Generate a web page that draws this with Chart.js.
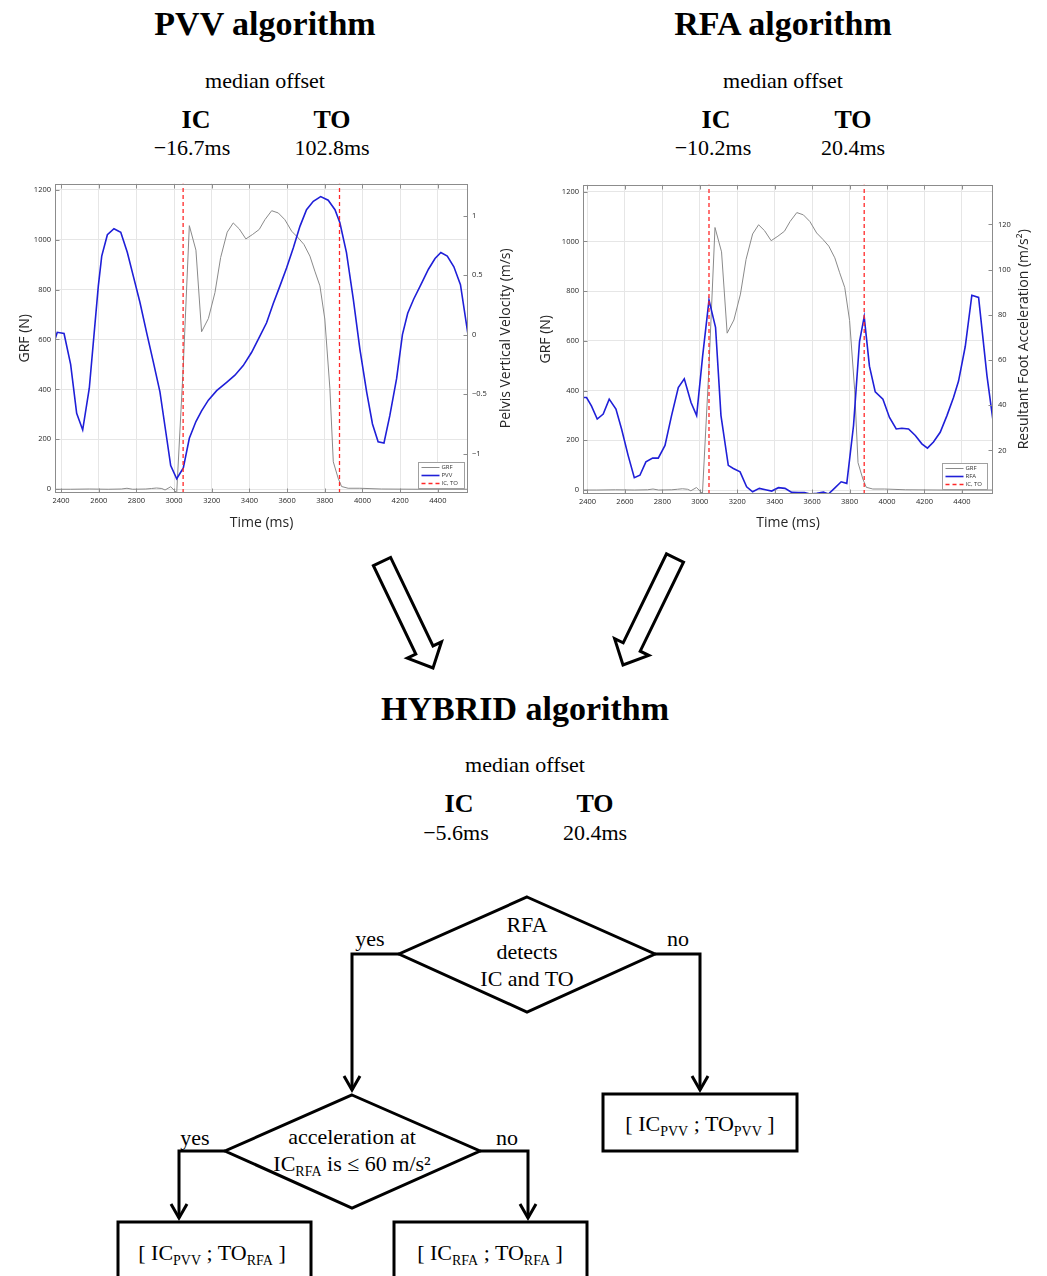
<!DOCTYPE html>
<html>
<head>
<meta charset="utf-8">
<script src="https://cdn.jsdelivr.net/npm/chart.js@4.4.1/dist/chart.umd.min.js"></script>
<style>
  html, body { margin: 0; padding: 0; background: #fff; }
  #page { position: relative; width: 1047px; height: 1276px; overflow: hidden; background: #fff; }
  #page svg { position: absolute; left: 0; top: 0; }
  .cv { position: absolute; }
  .serif { font-family: 'Liberation Serif', 'Times New Roman', serif; fill: #000; text-anchor: middle; }
  .h1 { font-size: 34px; font-weight: bold; }
  .h2 { font-size: 26px; font-weight: bold; }
  .t22 { font-size: 22px; }
  .flow { fill: none; stroke: #000; stroke-width: 3; stroke-linejoin: miter; }
  .block { fill: #fff; stroke: #000; stroke-width: 3; stroke-linejoin: miter; }
</style>
</head>
<body>
<div id="page">
<svg width="1047" height="1276">
  <!-- titles -->
  <text class="serif h1" x="265" y="35">PVV algorithm</text>
  <text class="serif t22" x="265" y="88">median offset</text>
  <text class="serif h2" x="196" y="128">IC</text>
  <text class="serif h2" x="332" y="128">TO</text>
  <text class="serif t22" x="192" y="155">−16.7ms</text>
  <text class="serif t22" x="332" y="155">102.8ms</text>

  <text class="serif h1" x="783" y="35">RFA algorithm</text>
  <text class="serif t22" x="783" y="88">median offset</text>
  <text class="serif h2" x="716" y="128">IC</text>
  <text class="serif h2" x="853" y="128">TO</text>
  <text class="serif t22" x="713" y="155">−10.2ms</text>
  <text class="serif t22" x="853" y="155">20.4ms</text>

  <!-- block arrows -->
  <polygon class="block" points="373.4,565.6 390.6,557.4 433,645.9 441.5,641.8 433,668 407.3,658.2 415.8,654.1"/>
  <polygon class="block" points="666.5,553.8 683.5,562.2 640.2,651.2 648.8,655.3 623,665 614.6,638.7 623.2,642.8"/>

  <text class="serif h1" x="525" y="720">HYBRID algorithm</text>
  <text class="serif t22" x="525" y="772">median offset</text>
  <text class="serif h2" x="459" y="812">IC</text>
  <text class="serif h2" x="595" y="812">TO</text>
  <text class="serif t22" x="456" y="840">−5.6ms</text>
  <text class="serif t22" x="595" y="840">20.4ms</text>

  <!-- decision 1 -->
  <polygon class="flow" points="527,897 655,954 527,1012 399,954"/>
  <text class="serif t22" x="527" y="932">RFA</text>
  <text class="serif t22" x="527" y="959">detects</text>
  <text class="serif t22" x="527" y="986">IC and TO</text>
  <text class="serif t22" x="370" y="946">yes</text>
  <text class="serif t22" x="678" y="946">no</text>
  <polyline class="flow" points="399,954 352,954 352,1090"/>
  <polyline class="flow" points="344,1076 352,1090 360,1076"/>
  <polyline class="flow" points="655,954 700,954 700,1090"/>
  <polyline class="flow" points="692,1076 700,1090 708,1076"/>
  <rect class="flow" x="603" y="1094" width="194" height="57"/>
  <text class="serif t22" x="700" y="1131">[ IC<tspan font-size="14" dy="5">PVV</tspan><tspan dy="-5"> ; TO</tspan><tspan font-size="14" dy="5">PVV</tspan><tspan dy="-5"> ]</tspan></text>

  <!-- decision 2 -->
  <polygon class="flow" points="352,1095 480,1151 352,1208 225,1151"/>
  <text class="serif t22" x="352" y="1144">acceleration at</text>
  <text class="serif t22" x="352" y="1171">IC<tspan font-size="14" dy="5">RFA</tspan><tspan dy="-5"> is ≤ 60 m/s²</tspan></text>
  <text class="serif t22" x="195" y="1145">yes</text>
  <text class="serif t22" x="507" y="1145">no</text>
  <polyline class="flow" points="225,1151 179,1151 179,1218"/>
  <polyline class="flow" points="171,1204 179,1218 187,1204"/>
  <polyline class="flow" points="480,1151 528,1151 528,1218"/>
  <polyline class="flow" points="520,1204 528,1218 536,1204"/>
  <rect class="flow" x="118" y="1222" width="193" height="70"/>
  <rect class="flow" x="394" y="1222" width="193" height="70"/>
  <text class="serif t22" x="212" y="1260">[ IC<tspan font-size="14" dy="5">PVV</tspan><tspan dy="-5"> ; TO</tspan><tspan font-size="14" dy="5">RFA</tspan><tspan dy="-5"> ]</tspan></text>
  <text class="serif t22" x="490" y="1260">[ IC<tspan font-size="14" dy="5">RFA</tspan><tspan dy="-5"> ; TO</tspan><tspan font-size="14" dy="5">RFA</tspan><tspan dy="-5"> ]</tspan></text>
</svg>
<div class="cv" style="left:0;top:175px;"><canvas id="pvvChart" width="520" height="360"></canvas></div>
<div class="cv" style="left:520px;top:175px;"><canvas id="rfaChart" width="527" height="360"></canvas></div>
</div>

<script>
// ticks (MATLAB axes)
const timeTicks = [2400, 2600, 2800, 3000, 3200, 3400, 3600, 3800, 4000, 4200, 4400];
const grfTicks = [0, 200, 400, 600, 800, 1000, 1200];
const pvvTicks = [-1, -0.5, 0, 0.5, 1];
const rfaTicks = [20, 40, 60, 80, 100, 120];

// ground reaction force (N), same trial in both panels
const grfTime = [2368, 2450, 2550, 2650, 2720, 2750, 2780, 2850, 2880, 2907, 2935, 2952, 2982, 3014, 3048, 3081, 3116, 3146, 3182, 3217,
  3247, 3282, 3314, 3346, 3381, 3417, 3452, 3482, 3518, 3553, 3588, 3624, 3659, 3689, 3721, 3747, 3774, 3800, 3827, 3845,
  3871, 3889, 3924, 3986, 4100, 4300, 4566];
const grfValues = [0, 0, 1, 0, 1, 4, 0, 1, 3, 5, 3, -3, 10, -14, 480, 1056, 958, 631, 684, 788,
  928, 1030, 1067, 1043, 1003, 1021, 1041, 1080, 1116, 1107, 1080, 1034, 1007, 981, 934, 874, 815, 682, 403, 110,
  44, 11, 4, 4, 1, 0, 0];

// pelvis vertical velocity (m/s)
const pvvTime = [2368, 2380, 2416, 2451, 2483, 2515, 2550, 2598, 2616, 2646, 2681, 2717, 2752, 2784, 2819, 2854, 2890, 2925, 2961, 2982,
  3014, 3049, 3081, 3116, 3146, 3182, 3226, 3279, 3323, 3367, 3411, 3456, 3491, 3526, 3562, 3597, 3633, 3668, 3703, 3739,
  3778, 3818, 3854, 3880, 3915, 3951, 3986, 4022, 4053, 4083, 4114, 4145, 4181, 4212, 4240, 4272, 4310, 4350, 4385, 4416,
  4450, 4485, 4520, 4560];
const pvvValues = [-0.04, 0.02, 0.01, -0.25, -0.66, -0.80, -0.45, 0.41, 0.66, 0.84, 0.89, 0.86, 0.69, 0.49, 0.27, 0.02, -0.23, -0.48, -0.87, -1.10,
  -1.21, -1.12, -0.87, -0.73, -0.64, -0.55, -0.47, -0.40, -0.34, -0.26, -0.15, -0.01, 0.10, 0.26, 0.41, 0.56, 0.73, 0.91, 1.05, 1.12,
  1.16, 1.13, 1.05, 0.94, 0.69, 0.30, -0.12, -0.48, -0.75, -0.90, -0.91, -0.68, -0.37, 0.00, 0.18, 0.30, 0.42, 0.55, 0.64, 0.69,
  0.66, 0.57, 0.42, 0.00];

// resultant foot acceleration (m/s²)
const rfaTime = [2376, 2395, 2421, 2452, 2484, 2516, 2552, 2582, 2617, 2650, 2680, 2712, 2748, 2778, 2814, 2849, 2885, 2917, 2953, 2983,
  3015, 3049, 3084, 3113, 3152, 3179, 3215, 3250, 3282, 3318, 3357, 3384, 3420, 3455, 3491, 3527, 3559, 3589, 3625, 3660,
  3687, 3723, 3755, 3785, 3821, 3853, 3878, 3906, 3937, 3978, 4013, 4049, 4079, 4115, 4151, 4186, 4216, 4248, 4284, 4320,
  4355, 4382, 4418, 4453, 4489, 4534, 4566];
const rfaValues = [43.4, 43.4, 39.7, 33.9, 36.1, 42.7, 38.3, 29.5, 17.8, 7.9, 9.0, 14.9, 16.6, 16.6, 22.2, 35.4, 47.8, 51.7, 41.2, 35.4,
  61.7, 86.5, 74.5, 35.4, 13.4, 12.0, 10.5, 3.9, 1.7, 3.2, 2.5, 2.0, 3.5, 3.2, 1.4, 1.3, 1.3, 0.7, 1.0, 1.6,
  0.7, 3.5, 6.1, 5.4, 31.0, 68.2, 79.2, 57.3, 45.9, 42.7, 34.6, 29.5, 29.8, 29.5, 26.6, 22.9, 21.0, 23.7, 28.0, 35.4,
  43.4, 50.7, 66.1, 88.7, 87.7, 52.9, 33.2];

// detected events (ms)
const pvvEvents = [3048, 3878];
const rfaEvents = [3049, 3878];

const AXIS_FONT = "'Open Sans', 'DejaVu Sans', sans-serif";
const TEXT = '#262626';
const EVENT_RED = 'rgb(255,40,40)';

const toPoints = (xs, ys) => xs.map((x, i) => ({ x, y: ys[i] }));

function eventLines(times, lo, hi) {
  const pts = [];
  times.forEach((t, i) => {
    if (i > 0) pts.push({ x: (times[i - 1] + t) / 2, y: null });
    pts.push({ x: t, y: lo }, { x: t, y: hi });
  });
  return pts;
}

const framePlugin = {
  id: 'frame',
  afterDatasetsDraw(chart) {
    const { ctx, chartArea: a, scales } = chart;
    const L = Math.round(a.left) + 0.5, R = Math.round(a.right) - 0.5;
    const T = Math.round(a.top) + 0.5, B = Math.round(a.bottom) - 0.5;
    ctx.save();
    ctx.strokeStyle = '#8c8c8c';
    ctx.lineWidth = 1;
    ctx.strokeRect(L, T, R - L, B - T);
    ctx.beginPath();
    scales.x.ticks.forEach(t => {
      const px = Math.round(scales.x.getPixelForValue(t.value)) + 0.5;
      ctx.moveTo(px, B); ctx.lineTo(px, B - 4);
      ctx.moveTo(px, T); ctx.lineTo(px, T + 4);
    });
    scales.y.ticks.forEach(t => {
      const py = Math.round(scales.y.getPixelForValue(t.value)) + 0.5;
      ctx.moveTo(L, py); ctx.lineTo(L + 4, py);
    });
    scales.y2.ticks.forEach(t => {
      const py = Math.round(scales.y2.getPixelForValue(t.value)) + 0.5;
      ctx.moveTo(R, py); ctx.lineTo(R - 4, py);
    });
    ctx.stroke();
    ctx.restore();
  }
};

const boxLegend = {
  id: 'boxLegend',
  afterDraw(chart, args, opts) {
    const { ctx, chartArea: a } = chart;
    const x0 = Math.round(a.right - opts.right - opts.width) + 0.5;
    const y0 = Math.round(a.bottom - opts.bottom - opts.height) + 0.5;
    ctx.save();
    ctx.fillStyle = '#fff';
    ctx.fillRect(x0, y0, opts.width, opts.height);
    ctx.strokeStyle = '#a0a0a0';
    ctx.lineWidth = 1;
    ctx.strokeRect(x0, y0, opts.width, opts.height);
    ctx.font = '6px ' + AXIS_FONT;
    ctx.textBaseline = 'middle';
    chart.data.datasets.forEach((ds, i) => {
      const y = Math.round(y0 + 4 + i * 8) + 0.5;
      ctx.strokeStyle = ds.borderColor;
      ctx.lineWidth = Math.max(1, ds.borderWidth);
      ctx.setLineDash(ds.borderDash || []);
      ctx.beginPath();
      ctx.moveTo(x0 + 3, y);
      ctx.lineTo(x0 + 21, y);
      ctx.stroke();
      ctx.setLineDash([]);
      ctx.fillStyle = '#333';
      ctx.fillText(ds.label, x0 + 23, y);
    });
    ctx.restore();
  }
};

// right axis title reads bottom-to-top, like MATLAB
const sideTitle = {
  id: 'sideTitle',
  afterDraw(chart, args, opts) {
    const { ctx, chartArea: a } = chart;
    ctx.save();
    ctx.translate(opts.x, (a.top + a.bottom) / 2);
    ctx.rotate(-Math.PI / 2);
    ctx.font = '14px ' + AXIS_FONT;
    ctx.fillStyle = TEXT;
    ctx.textAlign = 'center';
    ctx.textBaseline = 'middle';
    ctx.fillText(opts.text, 0, 0);
    ctx.restore();
  }
};

function gaitChartConfig(p) {
  const fixTicks = list => scale => { scale.ticks = list.map(v => ({ value: v })); };
  const tickFont = { family: AXIS_FONT, size: 7.5 };
  const plain = v => String(v).replace('-', '\u2212');
  return {
    type: 'line',
    data: {
      datasets: [
        {
          label: 'GRF',
          data: toPoints(grfTime, grfValues),
          yAxisID: 'y',
          borderColor: '#8a8a8a',
          borderWidth: 1,
          order: 3,
        },
        {
          label: p.label,
          data: toPoints(p.time, p.values),
          yAxisID: 'y2',
          borderColor: '#1f1fd8',
          borderWidth: 1.6,
          order: 2,
        },
        {
          label: 'IC, TO',
          data: eventLines(p.events, p.grfMin, p.grfMax),
          yAxisID: 'y',
          borderColor: EVENT_RED,
          borderWidth: 1.3,
          borderDash: [4, 3],
          spanGaps: false,
          order: 1,
        },
      ],
    },
    options: {
      responsive: false,
      animation: false,
      devicePixelRatio: 1,
      layout: { padding: { top: p.padTop, left: 0, right: 0, bottom: 0 } },
      elements: { point: { radius: 0 }, line: { tension: 0 } },
      plugins: {
        legend: { display: false },
        tooltip: { enabled: false },
        boxLegend: { width: p.legendW, height: 26, right: p.legendRight, bottom: 5 },
        sideTitle: { text: p.rightTitle, x: p.rightTitleX },
      },
      scales: {
        x: {
          type: 'linear',
          min: p.xMin,
          max: p.xMax,
          afterBuildTicks: fixTicks(timeTicks),
          afterFit: s => { s.height = p.xHeight; },
          grid: { color: '#e6e6e6', drawTicks: false },
          border: { display: false },
          ticks: { padding: 3, color: TEXT, font: tickFont, callback: plain },
          title: { display: true, text: 'Time (ms)', color: TEXT, font: { family: AXIS_FONT, size: 14 }, padding: { top: 0, bottom: 4 } },
        },
        y: {
          position: 'left',
          min: p.grfMin,
          max: p.grfMax,
          afterBuildTicks: fixTicks(grfTicks),
          afterFit: s => { s.width = p.yWidth; },
          grid: { color: '#e6e6e6', drawTicks: false },
          border: { display: false },
          ticks: { padding: 4, color: TEXT, font: tickFont, callback: plain },
          title: { display: true, text: 'GRF (N)', color: TEXT, font: { family: AXIS_FONT, size: 14 }, padding: { top: p.grfTitlePad, bottom: 0 } },
        },
        y2: {
          position: 'right',
          min: p.y2Min,
          max: p.y2Max,
          afterBuildTicks: fixTicks(p.y2Ticks),
          afterFit: s => { s.width = p.y2Width; },
          grid: { display: false, drawTicks: false },
          border: { display: false },
          ticks: { padding: p.y2Pad, color: TEXT, font: tickFont, callback: plain },
        },
      },
    },
    plugins: [framePlugin, boxLegend, sideTitle],
  };
}

new Chart(document.getElementById('pvvChart'), gaitChartConfig({
  label: 'PVV',
  time: pvvTime,
  values: pvvValues,
  events: pvvEvents,
  xMin: 2368, xMax: 4560,
  grfMin: -15, grfMax: 1225,
  y2Min: -1.33, y2Max: 1.27, y2Ticks: pvvTicks,
  padTop: 7, xHeight: 42, yWidth: 55, y2Width: 52, y2Pad: 4,
  grfTitlePad: 16.6,
  legendW: 46, legendRight: 4,
  rightTitle: 'Pelvis Vertical Velocity (m/s)', rightTitleX: 506,
}));

new Chart(document.getElementById('rfaChart'), gaitChartConfig({
  label: 'RFA',
  time: rfaTime,
  values: rfaValues,
  events: rfaEvents,
  xMin: 2376, xMax: 4566,
  grfMin: -16, grfMax: 1229,
  y2Min: 0.7, y2Max: 137.7, y2Ticks: rfaTicks,
  padTop: 7, xHeight: 41, yWidth: 63, y2Width: 54, y2Pad: 5,
  grfTitlePad: 17.6,
  legendW: 45, legendRight: 6,
  rightTitle: 'Resultant Foot Acceleration (m/s²)', rightTitleX: 504,
}));
</script>
</body>
</html>
